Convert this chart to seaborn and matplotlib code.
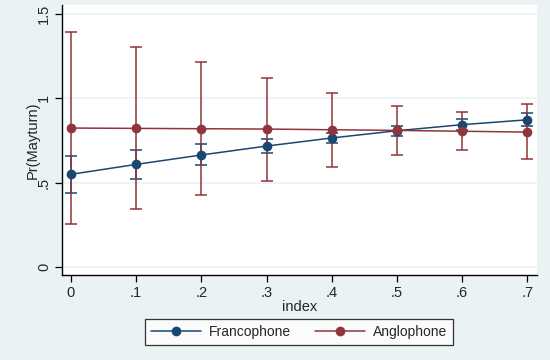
import numpy as np
import pandas as pd
import matplotlib
matplotlib.use("Agg")
import matplotlib.pyplot as plt
from matplotlib.lines import Line2D
import seaborn as sns

index_vals = [0.0, 0.1, 0.2, 0.3, 0.4, 0.5, 0.6, 0.7]
franco_mean = [0.549, 0.608, 0.664, 0.717, 0.765, 0.808, 0.844, 0.873]
franco_lo = [0.436, 0.521, 0.604, 0.677, 0.735, 0.778, 0.814, 0.834]
franco_hi = [0.660, 0.693, 0.727, 0.759, 0.795, 0.838, 0.876, 0.911]
anglo_mean = [0.824, 0.822, 0.820, 0.818, 0.814, 0.810, 0.805, 0.800]
anglo_lo = [0.255, 0.341, 0.426, 0.511, 0.594, 0.665, 0.693, 0.638]
anglo_hi = [1.394, 1.306, 1.216, 1.121, 1.034, 0.955, 0.919, 0.967]
groups = ["Francophone", "Anglophone"]
x_ticks = [0, 0.1, 0.2, 0.3, 0.4, 0.5, 0.6, 0.7]
x_ticklabels = ["0", ".1", ".2", ".3", ".4", ".5", ".6", ".7"]
y_ticks = [0, 0.5, 1, 1.5]
y_ticklabels = ["0", ".5", "1", "1.5"]

colors = {"Francophone": "#1A476F", "Anglophone": "#90353B"}
bg = "#EAF2F3"

df = pd.DataFrame({
    "index": index_vals * 2,
    "margin": franco_mean + anglo_mean,
    "lo": franco_lo + anglo_lo,
    "hi": franco_hi + anglo_hi,
    "group": [groups[0]] * len(index_vals) + [groups[1]] * len(index_vals),
})

sns.set_style("white")
plt.rcParams["font.family"] = ["Liberation Sans", "DejaVu Sans"]
plt.rcParams["font.size"] = 10

fig = plt.figure(figsize=(5.5, 3.6), dpi=100, facecolor=bg)
ax = fig.add_axes([62 / 550, 1 - 275 / 360, (537 - 62) / 550, (275 - 5) / 360])
ax.set_facecolor("white")

for yt in y_ticks:
    ax.axhline(yt, color=bg, lw=1.2, zorder=0)

for g in groups:
    sub = df[df["group"] == g]
    ax.errorbar(sub["index"], sub["margin"],
                yerr=[sub["margin"] - sub["lo"], sub["hi"] - sub["margin"]],
                fmt="none", ecolor=colors[g], elinewidth=1.1, capsize=4,
                capthick=1.1, zorder=2)

sns.lineplot(data=df, x="index", y="margin", hue="group", hue_order=groups,
             palette=colors, marker="o", markersize=7, markeredgewidth=0,
             linewidth=1.1, ax=ax, legend=False, zorder=3)

ax.set_xlim(-0.0138, 0.715)
ax.set_ylim(-0.049, 1.555)
ax.set_xticks(x_ticks)
ax.set_xticklabels(x_ticklabels)
ax.set_yticks(y_ticks)
ax.set_yticklabels(y_ticklabels, rotation=90, va="center")
ax.tick_params(axis="both", direction="out", length=5, width=0.9,
               color="black", labelsize=10.5, pad=3, left=True, bottom=True)
for s in ["top", "right"]:
    ax.spines[s].set_visible(False)
for s in ["left", "bottom"]:
    ax.spines[s].set_color("black")
    ax.spines[s].set_linewidth(1.0)

ax.set_xlabel("index", fontsize=10.5, labelpad=0)
ax.set_ylabel("Pr(Mayturn)", fontsize=10.5, labelpad=-2)

handles = [Line2D([0], [0], color=colors[g], lw=1.1, marker="o", markersize=7,
                  markeredgewidth=0) for g in groups]
leg = fig.legend(handles, groups, loc="center", bbox_to_anchor=(0.5436, 0.0778),
                 ncol=2, frameon=True, fancybox=False, edgecolor="black",
                 fontsize=10, handlelength=3.6, handletextpad=0.6,
                 columnspacing=1.7, borderpad=0.4)
leg.get_frame().set_linewidth(0.9)
leg.get_frame().set_facecolor("white")

fig.savefig("out.png", dpi=100, facecolor=bg)
